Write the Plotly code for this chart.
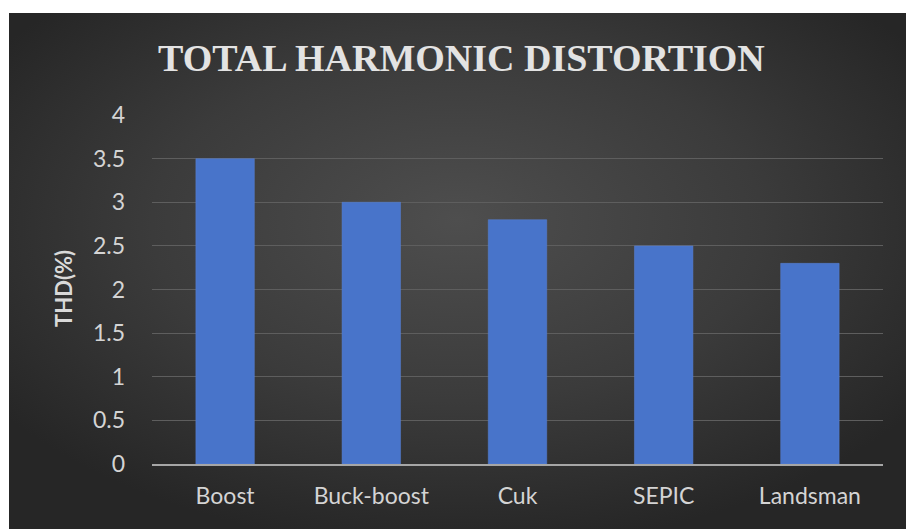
import base64
import plotly.graph_objects as go

categories = ["Boost", "Buck-boost", "Cuk", "SEPIC", "Landsman"]
thd_values = [3.5, 3.0, 2.8, 2.5, 2.3]
y_ticks = [0, 0.5, 1, 1.5, 2, 2.5, 3, 3.5, 4]
y_tick_labels = ["0", "0.5", "1", "1.5", "2", "2.5", "3", "3.5", "4"]

W, H = 906, 529
L, R, T, B = 152, 23, 115, 65
pw, ph = W - L - R, H - T - B

def px_to_paper_x(px):
    return (px - L) / pw

def px_to_paper_y(py):
    return 1 - (py - T) / ph

svg = """<svg xmlns='http://www.w3.org/2000/svg' width='897' height='516' preserveAspectRatio='none'>
<defs><radialGradient id='g' cx='0.5' cy='0.42' r='0.62' fx='0.5' fy='0.4'>
<stop offset='0' stop-color='#4e4e4e'/>
<stop offset='0.55' stop-color='#3b3b3b'/>
<stop offset='1' stop-color='#262626'/>
</radialGradient></defs>
<rect width='897' height='516' fill='url(#g)'/></svg>"""
src = "data:image/svg+xml;base64," + base64.b64encode(svg.encode()).decode()

tick_font = dict(family="Lato, Open Sans, sans-serif", size=23, color="#d4d4d4")

fig = go.Figure()
fig.add_trace(go.Bar(
    x=categories, y=thd_values,
    width=0.4,
    marker=dict(color="#4874ca", line=dict(color="#5a82d4", width=0.5)),
))

fig.update_layout(
    width=W, height=H,
    margin=dict(l=L, r=R, t=T, b=B),
    paper_bgcolor="#ffffff",
    plot_bgcolor="rgba(0,0,0,0)",
    showlegend=False,
    bargap=0.6,
    images=[dict(
        source=src, xref="paper", yref="paper",
        x=px_to_paper_x(9), y=px_to_paper_y(13),
        sizex=(W - 9) / pw, sizey=(H - 13) / ph,
        xanchor="left", yanchor="top", sizing="stretch", layer="below",
    )],
    xaxis=dict(
        showgrid=False, showline=True, linecolor="#a6a6a6", linewidth=2,
        ticks="", tickfont=tick_font,
        ticklabelstandoff=10, fixedrange=True,
    ),
    yaxis=dict(
        range=[0, 4], tickvals=y_ticks, ticktext=y_tick_labels,
        showgrid=True, gridcolor="#5e5e5e", gridwidth=1,
        zeroline=False, showline=False, ticks="",
        tickfont=tick_font,
        ticklabelstandoff=26,
    ),
    annotations=[
        dict(text="<b>TOTAL HARMONIC DISTORTION</b>", xref="paper", yref="paper",
             x=px_to_paper_x(461), y=px_to_paper_y(58), xanchor="center", yanchor="middle",
             showarrow=False,
             font=dict(family="Liberation Serif, DejaVu Serif, serif", size=38, color="#e3e3e3")),
        dict(text="<b>THD(%)</b>", xref="paper", yref="paper",
             x=px_to_paper_x(63), y=px_to_paper_y(289), xanchor="center", yanchor="middle",
             textangle=-90, showarrow=False,
             font=dict(family="Lato, Open Sans, sans-serif", size=22, color="#d9d9d9")),
    ],
)

fig.write_html("out.html")
